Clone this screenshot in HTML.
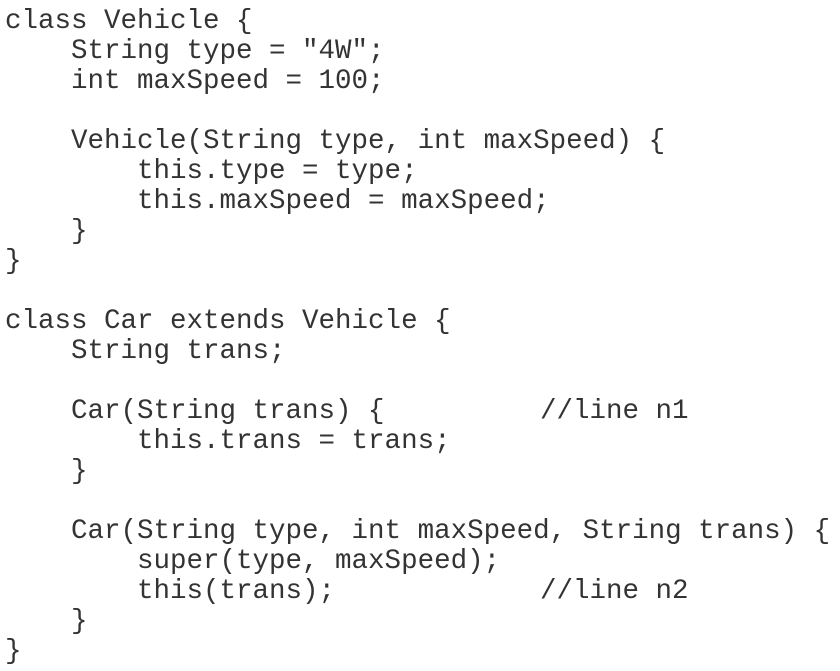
<!DOCTYPE html>
<html><head><meta charset="utf-8"><style>
html,body{margin:0;padding:0;background:#fff;width:840px;height:671px;overflow:hidden}
pre{margin:0;position:absolute;left:5px;top:7px;font-family:"Liberation Mono",monospace;font-size:27.5px;line-height:30px;color:#333}
.c{position:absolute;left:540px;font-family:"Liberation Mono",monospace;font-size:27.5px;line-height:30px;color:#333;white-space:pre}
</style></head><body><pre>class Vehicle {
    String type = "4W";
    int maxSpeed = 100;

    Vehicle(String type, int maxSpeed) {
        this.type = type;
        this.maxSpeed = maxSpeed;
    }
}

class Car extends Vehicle {
    String trans;

    Car(String trans) {
        this.trans = trans;
    }

    Car(String type, int maxSpeed, String trans) {
        super(type, maxSpeed);
        this(trans);
    }
}</pre>
<div class="c" style="top:397px">//line n1</div>
<div class="c" style="top:577px">//line n2</div>
</body></html>
